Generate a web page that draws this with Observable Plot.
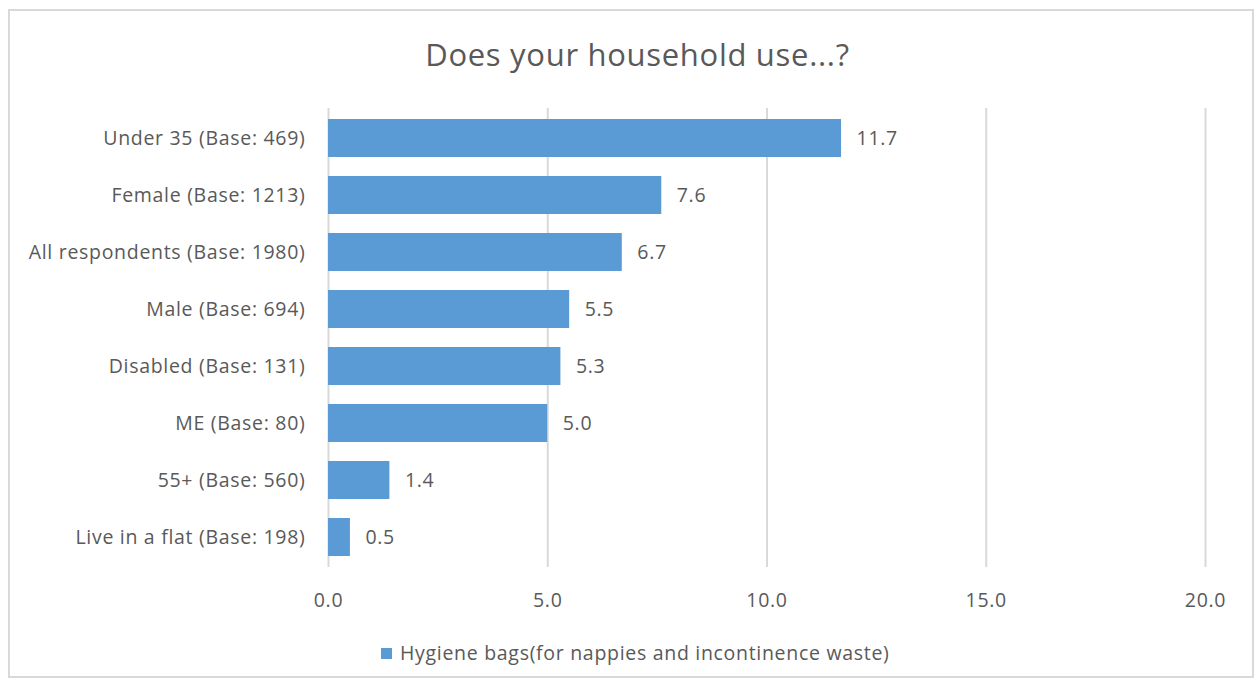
<!DOCTYPE html>
<html>
<head>
<meta charset="utf-8">
<script src="https://cdn.jsdelivr.net/npm/d3@7"></script>
<script src="https://cdn.jsdelivr.net/npm/@observablehq/plot@0.6"></script>
<style>
  html, body { margin: 0; padding: 0; background: #fff; }
  #wrap { position: relative; width: 1255px; height: 684px; font-family: "Open Sans", sans-serif; color: #595959; }
  #frame { position: absolute; left: 8px; top: 9px; width: 1246px; height: 669px; border: 2px solid #d9d9d9; box-sizing: border-box; }
  #title { position: absolute; left: 10px; width: 1255px; top: 33px; text-align: center; font-size: 31px; line-height: 42px; letter-spacing: 0.7px; }
  #chart { position: absolute; left: 0; top: 90px; }
  #chart svg text { letter-spacing: 0.7px; }
  #legend { position: absolute; left: 381px; top: 640px; font-size: 19.5px; line-height: 26px; display: flex; align-items: center; letter-spacing: 0.7px; }
  #legend .sw { width: 11px; height: 11px; background: #5B9BD5; margin-right: 8px; }
</style>
</head>
<body>
<div id="wrap">
  <div id="frame"></div>
  <div id="title">Does your household use...?</div>
  <div id="chart"></div>
  <div id="legend"><span class="sw"></span><span id="legtext"></span></div>
</div>
<script>
const categories = [
  "Under 35 (Base: 469)",
  "Female (Base: 1213)",
  "All respondents (Base: 1980)",
  "Male (Base: 694)",
  "Disabled (Base: 131)",
  "ME (Base: 80)",
  "55+ (Base: 560)",
  "Live in a flat (Base: 198)"
];
const values = [11.7, 7.6, 6.7, 5.5, 5.3, 5.0, 1.4, 0.5];
const xTicks = [0, 5, 10, 15, 20];
const seriesName = "Hygiene bags(for nappies and incontinence waste)";

const data = categories.map((c, i) => ({category: c, value: values[i]}));
document.getElementById("legtext").textContent = seriesName;

const chart = Plot.plot({
  width: 1255,
  height: 530,
  marginLeft: 328,
  marginRight: 50,
  marginTop: 18,
  marginBottom: 53,
  style: {fontFamily: "'Open Sans', sans-serif", fontSize: "19.5px", color: "#595959", background: "transparent"},
  x: {domain: [0, 20], ticks: xTicks, tickFormat: d => d.toFixed(1), label: null},
  y: {domain: categories, paddingInner: 0.34, paddingOuter: 0.17, label: null},
  marks: [
    Plot.gridX(xTicks, {stroke: "#d9d9d9", strokeOpacity: 1, strokeWidth: 2}),
    Plot.barX(data, {x: "value", y: "category", fill: "#5B9BD5"}),
    Plot.text(data, {x: "value", y: "category", text: d => d.value.toFixed(1), textAnchor: "start", dx: 15, fill: "#595959", fontSize: 19.5}),
    Plot.axisX({ticks: xTicks, tickFormat: d => d.toFixed(1), tickSize: 0, tickPadding: 26, fontSize: 19.5, label: null}),
    Plot.axisY({tickSize: 0, tickPadding: 23, fontSize: 19.5, label: null})
  ]
});
document.getElementById("chart").appendChild(chart);
</script>
</body>
</html>
